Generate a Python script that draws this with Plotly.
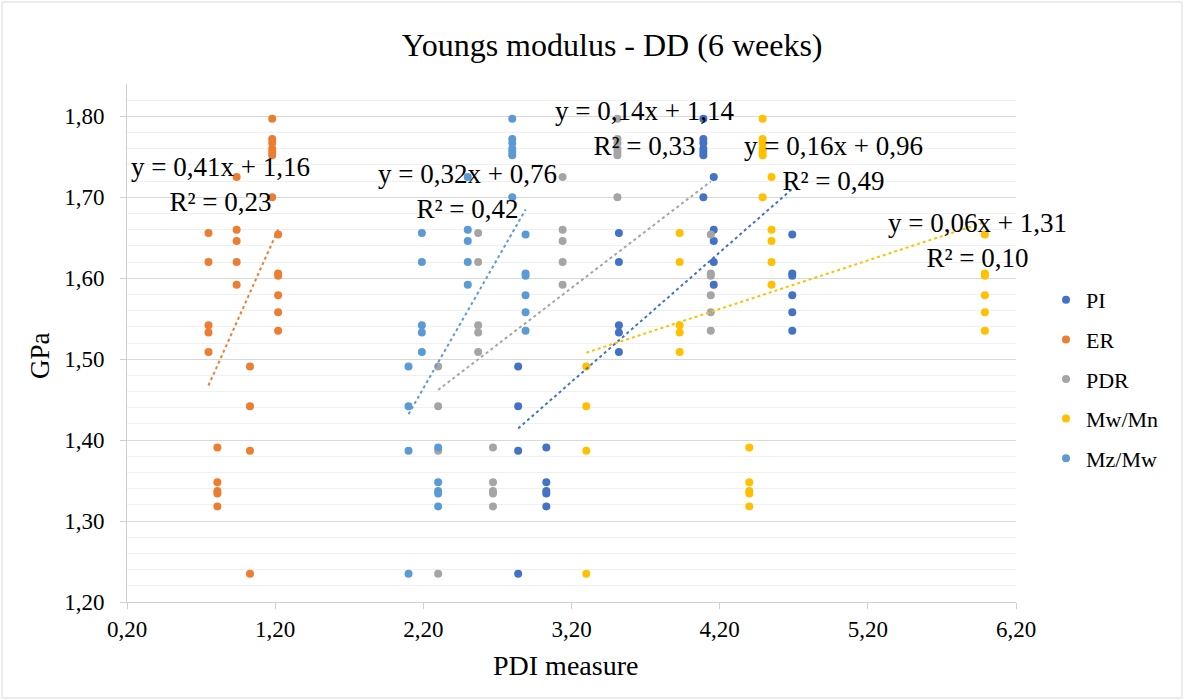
import plotly.graph_objects as go

# Young's modulus (GPa) of the sample groups, measured after 6 weeks (DD)
modulus_a = [1.656, 1.620, 1.542, 1.533, 1.509]
modulus_b = [1.391, 1.348, 1.337, 1.334, 1.318]
modulus_c = [1.725, 1.660, 1.646, 1.620, 1.592]
modulus_d = [1.491, 1.442, 1.387, 1.235]
modulus_e = [1.797, 1.772, 1.767, 1.760, 1.756, 1.752, 1.700]
modulus_f = [1.654, 1.606, 1.603, 1.579, 1.558, 1.535]
groups = [modulus_a, modulus_b, modulus_c, modulus_d, modulus_e, modulus_f]

# PDI measure of each group (order a..f) for every series
series_names = ["PI", "ER", "PDR", "Mw/Mn", "Mz/Mw"]
pdi_pi = [3.52, 3.03, 4.16, 2.84, 4.09, 4.69]
pdi_er = [0.75, 0.81, 0.94, 1.03, 1.18, 1.22]
pdi_pdr = [2.57, 2.67, 3.14, 2.30, 3.51, 4.14]
pdi_mwmn = [3.93, 4.40, 4.55, 3.30, 4.49, 5.99]
pdi_mzmw = [2.19, 2.30, 2.50, 2.10, 2.80, 2.89]
pdi_all = [pdi_pi, pdi_er, pdi_pdr, pdi_mwmn, pdi_mzmw]

# linear trendlines: y = slope * x + intercept, with R²
slopes = [0.16, 0.41, 0.14, 0.06, 0.32]
intercepts = [0.96, 1.16, 1.14, 1.31, 0.76]
r_squared = [0.49, 0.23, 0.33, 0.10, 0.42]

colors = ["#4472C4", "#ED7D31", "#A5A5A5", "#FFC000", "#5B9BD5"]
# where each equation label is centred (data coordinates)
label_x = [4.965, 0.83, 3.69, 5.94, 2.50]
label_y = [1.742, 1.716, 1.785, 1.647, 1.707]

FONT = "Liberation Serif"


def fmt(v):
    return f"{v:.2f}".replace(".", ",")


fig = go.Figure()

for name, xs, col in zip(series_names, pdi_all, colors):
    px, py = [], []
    for x, ys in zip(xs, groups):
        px += [x] * len(ys)
        py += ys
    fig.add_trace(go.Scatter(
        x=px, y=py, mode="markers", name=name, legendgroup=name,
        marker=dict(color=col, size=8),
    ))

for name, xs, col, m, b in zip(series_names, pdi_all, colors, slopes, intercepts):
    x0, x1 = min(xs), max(xs)
    fig.add_trace(go.Scatter(
        x=[x0, x1], y=[m * x0 + b, m * x1 + b], mode="lines",
        line=dict(color=col, width=2, dash="dot"),
        showlegend=False, legendgroup=name, hoverinfo="skip",
    ))

for m, b, r2, lx, ly in zip(slopes, intercepts, r_squared, label_x, label_y):
    fig.add_annotation(
        x=lx, y=ly, xref="x", yref="y", showarrow=False, align="center",
        text=f"y = {fmt(m)}x + {fmt(b)}<br>R² = {fmt(r2)}",
        font=dict(family=FONT, size=27, color="#000000"),
    )

L, R, T, B = 127, 168, 84, 98
W, H = 1184, 700
pw, ph = W - L - R, H - T - B

# axis titles
fig.add_annotation(
    text="PDI measure", xref="paper", yref="paper",
    x=(565 - L) / pw, y=(T + ph - 665) / ph, xanchor="center", yanchor="middle",
    showarrow=False, font=dict(family=FONT, size=28, color="#000000"),
)
fig.add_annotation(
    text="GPa", xref="paper", yref="paper", textangle=-90,
    x=(40 - L) / pw, y=(T + ph - 356) / ph, xanchor="center", yanchor="middle",
    showarrow=False, font=dict(family=FONT, size=27, color="#000000"),
)

# outer chart border
fig.add_shape(
    type="rect", xref="paper", yref="paper", layer="below",
    x0=(2 - L) / pw, x1=(W - 2 - L) / pw,
    y0=-(H - 2 - T - ph) / ph, y1=1 + (T - 2) / ph,
    line=dict(color="#D9D9D9", width=1), fillcolor="rgba(0,0,0,0)",
)

fig.update_layout(
    width=W, height=H,
    margin=dict(l=L, r=R, t=T, b=B, autoexpand=False),
    paper_bgcolor="white", plot_bgcolor="white",
    separators=", ",
    font=dict(family=FONT, size=22, color="#000000"),
    title=dict(
        text="Youngs modulus - DD (6 weeks)", x=0.517, xanchor="center",
        y=1 - 45 / H, yanchor="middle", yref="container",
        font=dict(family=FONT, size=32, color="#000000"),
    ),
    legend=dict(
        xref="container", yref="container",
        x=1046 / W, xanchor="left", y=1 - 379 / H, yanchor="middle",
        traceorder="grouped", tracegroupgap=8,
        font=dict(family=FONT, size=22), bgcolor="rgba(0,0,0,0)",
    ),
    showlegend=True,
)

fig.update_xaxes(
    range=[0.2, 6.2], tick0=0.2, dtick=1, tickformat=".2f",
    showgrid=False, zeroline=False,
    showline=True, linecolor="#D0D0D0", linewidth=1,
    ticks="outside", ticklen=6, tickcolor="#D0D0D0",
    tickfont=dict(family=FONT, size=23),
)
fig.update_yaxes(
    range=[1.2, 1.84], tick0=1.2, dtick=0.1, tickformat=".2f",
    showgrid=True, gridcolor="#D9D9D9", gridwidth=1, zeroline=False,
    showline=True, linecolor="#D0D0D0", linewidth=1,
    ticks="outside", ticklen=6, tickcolor="#D0D0D0", ticklabelstandoff=11,
    tickfont=dict(family=FONT, size=23),
    minor=dict(dtick=0.02, tick0=1.2, showgrid=True, gridcolor="#F0F0F0", gridwidth=1, ticks=""),
)

fig.write_html("out.html")
